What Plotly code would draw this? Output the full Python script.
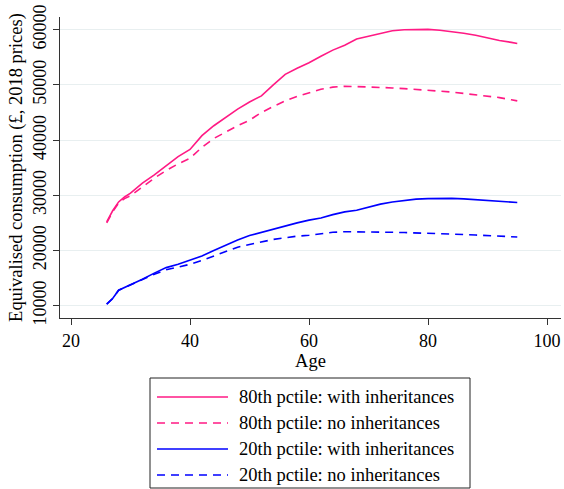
import plotly.graph_objects as go

ages = [26, 27, 28, 29, 30, 32, 34, 36, 38, 40, 42, 44, 46, 48, 50, 52, 54, 56, 58, 60,
        62, 64, 66, 68, 70, 72, 74, 76, 78, 80, 82, 84, 86, 88, 90, 92, 94, 95]

p80_with = [25200, 27200, 28800, 29700, 30400, 32200, 33700, 35300, 37000, 38300,
            40800, 42600, 44100, 45600, 46900, 48000, 50000, 51900, 53000, 54000,
            55200, 56300, 57200, 58300, 58800, 59300, 59800, 60000, 60050, 60050,
            59900, 59650, 59350, 59000, 58500, 58050, 57700, 57500]

p80_no = [25000, 27000, 28600, 29400, 29900, 31500, 33100, 34500, 35700, 36700,
          38700, 40300, 41500, 42600, 43600, 45000, 46100, 47100, 47900, 48600,
          49200, 49600, 49750, 49700, 49650, 49550, 49450, 49330, 49200, 49050,
          48900, 48700, 48450, 48200, 47950, 47700, 47300, 47100]

p20_with = [10300, 11300, 12800, 13300, 13700, 14800, 15900, 16900, 17500, 18200,
            19000, 20000, 21000, 21900, 22700, 23300, 23900, 24500, 25000, 25500,
            25900, 26500, 27000, 27300, 27900, 28400, 28800, 29050, 29300, 29400,
            29450, 29450, 29350, 29200, 29050, 28900, 28750, 28700]

p20_no = [10300, 11300, 12800, 13300, 13700, 14700, 15700, 16500, 17000, 17500,
          18200, 19000, 19900, 20600, 21100, 21600, 22000, 22300, 22600, 22750,
          23000, 23300, 23400, 23400, 23380, 23350, 23300, 23250, 23200, 23100,
          23000, 22950, 22900, 22800, 22700, 22600, 22500, 22450]

series_names = ["80th pctile: with inheritances", "80th pctile: no inheritances",
                "20th pctile: with inheritances", "20th pctile: no inheritances"]
x_ticks = [20, 40, 60, 80, 100]
y_ticks = [10000, 20000, 30000, 40000, 50000, 60000]
y_tick_labels = ["10000", "20000", "30000", "40000", "50000", "60000"]

PINK = "#FF1A84"
BLUE = "#0000FF"
DASH = "8px,6px"
FONT = "Liberation Serif, Times New Roman, serif"

styles = [(PINK, "solid"), (PINK, DASH), (BLUE, "solid"), (BLUE, DASH)]
data = [p80_with, p80_no, p20_with, p20_no]

fig = go.Figure()
for name, vals, (col, dash) in zip(series_names, data, styles):
    fig.add_trace(go.Scatter(x=ages, y=vals, mode="lines", name=name,
                             line=dict(color=col, width=1.6, dash=dash),
                             showlegend=False))

W, H = 564, 489
L, R, T, B = 60, 3, 17, 171
pw, ph = W - L - R, H - T - B


def px_x(px):
    return (px - L) / pw


def px_y(py):
    return (H - B - py) / ph


shapes = []
annotations = []
# legend box
shapes.append(dict(type="rect", xref="paper", yref="paper",
                   x0=px_x(150), x1=px_x(470), y0=px_y(488), y1=px_y(378),
                   line=dict(color="#222", width=1), fillcolor="white"))
for i, (name, (col, dash)) in enumerate(zip(series_names, styles)):
    yy = 397 + 26 * i
    shapes.append(dict(type="line", xref="paper", yref="paper",
                       x0=px_x(157), x1=px_x(228), y0=px_y(yy), y1=px_y(yy),
                       line=dict(color=col, width=1.6, dash=dash)))
    annotations.append(dict(xref="paper", yref="paper", x=px_x(237), y=px_y(yy),
                            text=name, showarrow=False, xanchor="left", yanchor="middle",
                            font=dict(family=FONT, size=18.5, color="#000")))

fig.update_layout(
    width=W, height=H,
    margin=dict(l=L, r=R, t=T, b=B, autoexpand=False),
    paper_bgcolor="white", plot_bgcolor="white",
    font=dict(family=FONT, size=18, color="#000"),
    shapes=shapes, annotations=annotations,
    showlegend=False,
)
fig.update_xaxes(range=[18.15, 102.35], tickvals=x_ticks, ticks="outside", ticklen=6,
                 tickcolor="#333", showline=True, linecolor="#333", linewidth=1,
                 showgrid=False, zeroline=False,
                 tickfont=dict(family=FONT, size=18),
                 title=dict(text="Age", font=dict(family=FONT, size=18.5), standoff=2))
fig.update_yaxes(range=[7772, 62300], tickvals=y_ticks, ticktext=y_tick_labels,
                 ticks="outside", ticklen=6,
                 tickcolor="#333", showline=True, linecolor="#333", linewidth=1,
                 showgrid=True, gridcolor="#E8EFF0", gridwidth=1, zeroline=False,
                 tickangle=-90, tickfont=dict(family=FONT, size=18),
                 title=dict(text="Equivalised consumption (£, 2018 prices)",
                            font=dict(family=FONT, size=18.5), standoff=2))

fig.write_html("out.html")
